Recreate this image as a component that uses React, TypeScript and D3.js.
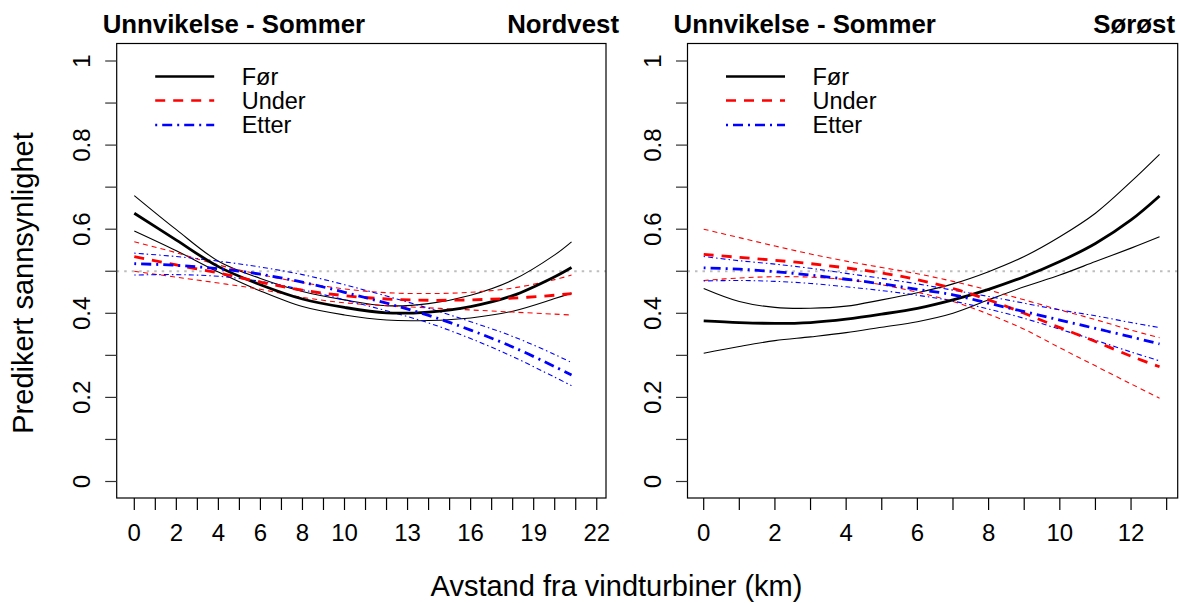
import React from "react";
import * as d3 from "d3";

// ---------- DATA ----------
const seriesNames = ["Før", "Under", "Etter"];
const panelTitles = ["Unnvikelse - Sommer", "Unnvikelse - Sommer"];
const panelRegions = ["Nordvest", "Sørøst"];
const xAxisTitle = "Avstand fra vindturbiner (km)";
const yAxisTitle = "Predikert sannsynlighet";

const yTickValues = [0, 0.1, 0.2, 0.3, 0.4, 0.5, 0.6, 0.7, 0.8, 0.9, 1];
const yTickLabels = [0, 0.2, 0.4, 0.6, 0.8, 1];

const nwTickValues = d3.range(0, 23, 1);
const nwTickLabels = [0, 2, 4, 6, 8, 10, 13, 16, 19, 22];
const seTickValues = d3.range(0, 14, 1);
const seTickLabels = [0, 2, 4, 6, 8, 10, 12];

// Nordvest panel
const nwKm = [0, 2, 4, 6, 8, 10, 12, 14, 16, 18, 20, 20.8];
const nwForFit = [0.638, 0.574, 0.511, 0.468, 0.434, 0.414, 0.401, 0.403, 0.416, 0.442, 0.487, 0.509];
const nwForHi = [0.680, 0.599, 0.524, 0.483, 0.452, 0.432, 0.418, 0.423, 0.443, 0.479, 0.539, 0.570];
const nwForLo = [0.596, 0.549, 0.498, 0.453, 0.416, 0.396, 0.384, 0.383, 0.389, 0.405, 0.435, 0.448];
const nwUnderFit = [0.535, 0.515, 0.496, 0.474, 0.455, 0.442, 0.434, 0.431, 0.432, 0.436, 0.443, 0.447];
const nwUnderHi = [0.570, 0.544, 0.515, 0.492, 0.473, 0.458, 0.449, 0.447, 0.450, 0.460, 0.480, 0.491];
const nwUnderLo = [0.500, 0.486, 0.472, 0.457, 0.438, 0.425, 0.418, 0.413, 0.408, 0.403, 0.398, 0.396];
const nwEtterFit = [0.518, 0.514, 0.506, 0.493, 0.474, 0.450, 0.424, 0.395, 0.360, 0.320, 0.273, 0.253];
const nwEtterHi = [0.543, 0.535, 0.524, 0.510, 0.492, 0.468, 0.441, 0.412, 0.380, 0.345, 0.302, 0.283];
const nwEtterLo = [0.491, 0.492, 0.488, 0.476, 0.456, 0.432, 0.406, 0.377, 0.340, 0.297, 0.248, 0.228];

// Sørøst panel
const seKm = [0, 1, 2, 3, 4, 5, 6, 7, 8, 9, 10, 11, 12, 12.8];
const seForFit = [0.382, 0.378, 0.376, 0.378, 0.386, 0.398, 0.412, 0.432, 0.457, 0.487, 0.523, 0.566, 0.622, 0.679];
const seForHi = [0.459, 0.428, 0.414, 0.412, 0.417, 0.432, 0.449, 0.470, 0.499, 0.535, 0.582, 0.638, 0.713, 0.778];
const seForLo = [0.305, 0.321, 0.335, 0.344, 0.354, 0.367, 0.380, 0.400, 0.432, 0.463, 0.491, 0.523, 0.555, 0.582];
const seUnderFit = [0.540, 0.533, 0.526, 0.518, 0.508, 0.496, 0.480, 0.459, 0.432, 0.400, 0.366, 0.333, 0.298, 0.273];
const seUnderHi = [0.600, 0.580, 0.560, 0.541, 0.524, 0.509, 0.494, 0.476, 0.455, 0.432, 0.408, 0.385, 0.360, 0.342];
const seUnderLo = [0.478, 0.484, 0.487, 0.486, 0.480, 0.468, 0.450, 0.428, 0.398, 0.362, 0.318, 0.275, 0.232, 0.198];
const seEtterFit = [0.508, 0.505, 0.499, 0.491, 0.481, 0.470, 0.457, 0.444, 0.424, 0.404, 0.384, 0.364, 0.344, 0.327];
const seEtterHi = [0.535, 0.525, 0.517, 0.507, 0.495, 0.483, 0.470, 0.455, 0.440, 0.424, 0.408, 0.394, 0.378, 0.366];
const seEtterLo = [0.477, 0.478, 0.476, 0.471, 0.463, 0.454, 0.443, 0.429, 0.410, 0.388, 0.362, 0.336, 0.308, 0.287];

const refLine = 0.5;

// ---------- STYLE ----------
const FONT = "Arial, 'Liberation Sans', Helvetica, sans-serif";
const colors = ["#000000", "#FF0000", "#0000FF"];
const dashMain = ["none", "10,8", "2,5,10,5"];
const dashThin = ["none", "5,4", "1.5,3,5,3"];

type Panel = {
  km: number[];
  sets: number[][][]; // [series][fit, hi, lo]
  ticks: number[];
  tickLabels: number[];
  domain: [number, number];
  x0: number;
  x1: number;
  regionEnd: number;
  title: string;
  region: string;
};

const panels: Panel[] = [
  {
    km: nwKm,
    sets: [
      [nwForFit, nwForHi, nwForLo],
      [nwUnderFit, nwUnderHi, nwUnderLo],
      [nwEtterFit, nwEtterHi, nwEtterLo],
    ],
    ticks: nwTickValues,
    tickLabels: nwTickLabels,
    domain: [-0.837, 22.44],
    x0: 116.7,
    x1: 606,
    regionEnd: 619,
    title: panelTitles[0],
    region: panelRegions[0],
  },
  {
    km: seKm,
    sets: [
      [seForFit, seForHi, seForLo],
      [seUnderFit, seUnderHi, seUnderLo],
      [seEtterFit, seEtterHi, seEtterLo],
    ],
    ticks: seTickValues,
    tickLabels: seTickLabels,
    domain: [-0.455, 13.31],
    x0: 687.5,
    x1: 1177.7,
    regionEnd: 1175,
    title: panelTitles[1],
    region: panelRegions[1],
  },
];

const TOP = 43.5;
const BOTTOM = 498;

function PanelView({ p }: { p: Panel }) {
  const x = d3.scaleLinear().domain(p.domain).range([p.x0, p.x1]);
  const y = d3.scaleLinear().domain([0, 1]).range([481.5, 61]);
  const line = (vals: number[]) =>
    d3
      .line<number>()
      .x((_, i) => x(p.km[i]))
      .y((v) => y(v))
      .curve(d3.curveCatmullRom.alpha(0.5))(vals) || "";

  const legendX0 = p.x0 + 38.5;
  const legendX1 = p.x0 + 97.5;
  const legendY = [TOP + 33, TOP + 57, TOP + 81.5];

  return (
    <g>
      {/* reference line */}
      <line
        x1={p.x0}
        x2={p.x1}
        y1={y(refLine)}
        y2={y(refLine)}
        stroke="#BEBEBE"
        strokeWidth={2}
        strokeDasharray="2.5,5"
      />
      {/* CI lines */}
      {p.sets.map((s, si) =>
        [1, 2].map((k) => (
          <path
            key={`ci-${si}-${k}`}
            d={line(s[k])}
            fill="none"
            stroke={colors[si]}
            strokeWidth={1.1}
            strokeDasharray={dashThin[si]}
          />
        ))
      )}
      {/* fitted lines */}
      {p.sets.map((s, si) => (
        <path
          key={`fit-${si}`}
          d={line(s[0])}
          fill="none"
          stroke={colors[si]}
          strokeWidth={2.8}
          strokeDasharray={dashMain[si]}
        />
      ))}
      {/* box */}
      <rect
        x={p.x0}
        y={TOP}
        width={p.x1 - p.x0}
        height={BOTTOM - TOP}
        fill="none"
        stroke="#000"
        strokeWidth={1.2}
      />
      {/* y axis */}
      {yTickValues.map((t) => (
        <line key={`yt-${t}`} x1={p.x0 - 11.5} x2={p.x0} y1={y(t)} y2={y(t)} stroke="#333" strokeWidth={1.2} />
      ))}
      {yTickLabels.map((t) => (
        <text
          key={`yl-${t}`}
          transform={`translate(${p.x0 - 26.5},${y(t)}) rotate(-90)`}
          textAnchor="middle"
          fontFamily={FONT}
          fontSize={24}
          fill="#000"
        >
          {String(t)}
        </text>
      ))}
      {/* x axis */}
      {p.ticks.map((t) => (
        <line key={`xt-${t}`} x1={x(t)} x2={x(t)} y1={BOTTOM} y2={BOTTOM + 12} stroke="#000" strokeWidth={1.2} />
      ))}
      {p.tickLabels.map((t) => (
        <text
          key={`xl-${t}`}
          x={x(t)}
          y={541}
          textAnchor="middle"
          fontFamily={FONT}
          fontSize={24}
          fill="#000"
        >
          {String(t)}
        </text>
      ))}
      {/* titles */}
      <text x={p.x0 - 14} y={33} fontFamily={FONT} fontWeight="bold" fontSize={25.8} fill="#000">
        {p.title}
      </text>
      <text x={p.regionEnd} y={33} textAnchor="end" fontFamily={FONT} fontWeight="bold" fontSize={25.8} fill="#000">
        {p.region}
      </text>
      {/* legend */}
      {seriesNames.map((n, i) => (
        <g key={`lg-${n}`}>
          <line
            x1={legendX0}
            x2={legendX1}
            y1={legendY[i]}
            y2={legendY[i]}
            stroke={colors[i]}
            strokeWidth={2.5}
            strokeDasharray={dashMain[i]}
          />
          <text x={p.x0 + 125} y={legendY[i] + 8} fontFamily={FONT} fontSize={23.5} fill="#000">
            {n}
          </text>
        </g>
      ))}
    </g>
  );
}

export default function App() {
  return (
    <svg
      width={1180}
      height={603}
      style={{ position: "absolute", left: 0, top: 0, background: "#fff" }}
    >
      <rect x={0} y={0} width={1180} height={603} fill="#fff" />
      {panels.map((p, i) => (
        <PanelView key={i} p={p} />
      ))}
      <text
        transform={`translate(33,283) rotate(-90)`}
        textAnchor="middle"
        fontFamily={FONT}
        fontSize={29}
        fill="#000"
      >
        {yAxisTitle}
      </text>
      <text x={616.5} y={596} textAnchor="middle" fontFamily={FONT} fontSize={29} fill="#000">
        {xAxisTitle}
      </text>
    </svg>
  );
}
